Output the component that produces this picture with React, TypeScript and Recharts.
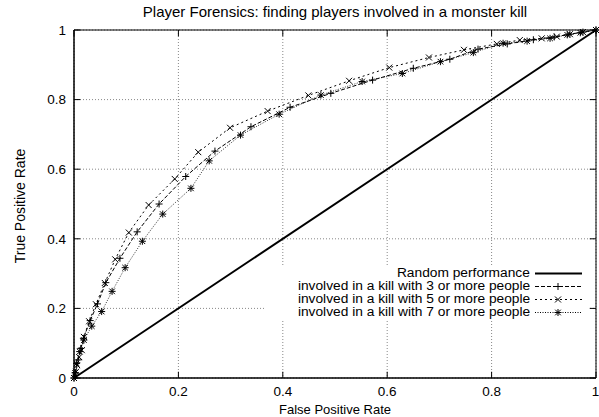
import React from "react";
import {
  LineChart,
  Line,
  XAxis,
  YAxis,
  CartesianGrid,
  ReferenceArea,
  ReferenceLine,
} from "recharts";

document.body.style.margin = "0";

const TICKS = [0, 0.2, 0.4, 0.6, 0.8, 1];

// involved in a kill with 3 or more people
const FPR_3 = [0, 0.003, 0.008, 0.013, 0.018, 0.031, 0.045, 0.061, 0.088, 0.121, 0.163, 0.214, 0.27, 0.339, 0.414, 0.492, 0.572, 0.65, 0.72, 0.774, 0.83, 0.88, 0.92, 0.95, 0.975, 1];
const TPR_3 = [0, 0.015, 0.052, 0.085, 0.114, 0.165, 0.213, 0.274, 0.344, 0.42, 0.5, 0.579, 0.652, 0.722, 0.778, 0.818, 0.856, 0.89, 0.916, 0.945, 0.96, 0.972, 0.98, 0.988, 0.994, 1];

// involved in a kill with 5 or more people
const FPR_5 = [0, 0.004, 0.006, 0.01, 0.015, 0.019, 0.029, 0.042, 0.059, 0.079, 0.105, 0.143, 0.193, 0.238, 0.299, 0.371, 0.449, 0.527, 0.604, 0.68, 0.747, 0.81, 0.854, 0.896, 0.925, 0.95, 0.975, 1];
const TPR_5 = [0, 0.018, 0.037, 0.06, 0.08, 0.118, 0.163, 0.212, 0.273, 0.341, 0.418, 0.497, 0.572, 0.649, 0.719, 0.767, 0.812, 0.854, 0.892, 0.921, 0.943, 0.96, 0.971, 0.976, 0.981, 0.988, 0.994, 1];

// involved in a kill with 7 or more people
const FPR_7 = [0, 0.002, 0.005, 0.011, 0.019, 0.034, 0.053, 0.073, 0.098, 0.131, 0.17, 0.224, 0.259, 0.319, 0.393, 0.473, 0.552, 0.629, 0.702, 0.765, 0.822, 0.868, 0.912, 0.945, 0.97, 1];
const TPR_7 = [0, 0.015, 0.042, 0.076, 0.109, 0.149, 0.191, 0.249, 0.317, 0.393, 0.471, 0.545, 0.624, 0.698, 0.758, 0.813, 0.852, 0.875, 0.909, 0.935, 0.962, 0.968, 0.976, 0.986, 0.992, 1];

const RANDOM_X = [0, 1];
const RANDOM_Y = [0, 1];

const zip = (xs: number[], ys: number[]) => xs.map((x, i) => ({ x, y: ys[i] }));

const s3 = zip(FPR_3, TPR_3);
const s5 = zip(FPR_5, TPR_5);
const s7 = zip(FPR_7, TPR_7);
const random = zip(RANDOM_X, RANDOM_Y);

const FONT = "'Liberation Sans', Arial, Helvetica, sans-serif";
const FS = 13.5;
const fmt = (v: number) => String(v);

const Plus = ({ cx, cy, r = 3.5 }: any) => (
  <g stroke="#000" strokeWidth={1}>
    <line x1={cx - r} y1={cy} x2={cx + r} y2={cy} />
    <line x1={cx} y1={cy - r} x2={cx} y2={cy + r} />
  </g>
);

const Cross = ({ cx, cy, r = 3 }: any) => (
  <g stroke="#000" strokeWidth={1}>
    <line x1={cx - r} y1={cy - r} x2={cx + r} y2={cy + r} />
    <line x1={cx - r} y1={cy + r} x2={cx + r} y2={cy - r} />
  </g>
);

const Star = ({ cx, cy }: any) => (
  <g>
    <Plus cx={cx} cy={cy} r={3.5} />
    <Cross cx={cx} cy={cy} r={2.8} />
  </g>
);

const dotOf = (Shape: any) => (p: any) =>
  p.cx == null ? <g key={p.key} /> : <Shape key={p.key} cx={p.cx} cy={p.cy} />;

const XLabel = ({ viewBox }: any) => (
  <text x={viewBox.x + viewBox.width / 2} y={414} textAnchor="middle" fontSize={13} fill="#000" fontFamily={FONT}>
    False Positive Rate
  </text>
);

const YLabel = ({ viewBox }: any) => {
  const cx = 20;
  const cy = viewBox.y + viewBox.height / 2 + 2;
  return (
    <text x={cx} y={cy} transform={`rotate(-90 ${cx} ${cy})`} textAnchor="middle" dominantBaseline="central" fontSize={14} fill="#000" fontFamily={FONT}>
      True Positive Rate
    </text>
  );
};

const LEGEND = [
  { label: "Random performance", dash: undefined, width: 2, Shape: null },
  { label: "involved in a kill with 3 or more people", dash: "4 2", width: 1, Shape: Plus },
  { label: "involved in a kill with 5 or more people", dash: "2 3", width: 1, Shape: Cross },
  { label: "involved in a kill with 7 or more people", dash: "1 1.5", width: 1, Shape: Star },
];

export default function App() {
  return (
    <div style={{ position: "relative", width: 599, height: 417, fontFamily: FONT, background: "#fff" }}>
      <LineChart width={599} height={417} margin={{ top: 30, right: 3, bottom: 0, left: 0 }}>
        <CartesianGrid stroke="#888" strokeDasharray="1 2" />
        <XAxis
          type="number"
          dataKey="x"
          domain={[0, 1]}
          ticks={TICKS}
          tickFormatter={fmt}
          height={39}
          tickSize={0}
          tickMargin={8}
          axisLine={{ stroke: "#000" }}
          tick={{ fill: "#000", fontSize: FS, fontFamily: FONT }}
          label={<XLabel />}
        />
        <YAxis
          type="number"
          domain={[0, 1]}
          ticks={TICKS}
          tickFormatter={fmt}
          width={74}
          tickSize={0}
          tickMargin={8}
          axisLine={{ stroke: "#000" }}
          tick={{ fill: "#000", fontSize: FS, fontFamily: FONT }}
          label={<YLabel />}
        />
        <ReferenceArea x1={0} x2={1} y1={0} y2={1} fill="none" stroke="#000" strokeWidth={1} fillOpacity={0} />
        {TICKS.map((t) => (
          <ReferenceLine key={"xb" + t} segment={[{ x: t, y: 0 }, { x: t, y: 0.018 }]} stroke="#000" />
        ))}
        {TICKS.map((t) => (
          <ReferenceLine key={"xt" + t} segment={[{ x: t, y: 1 }, { x: t, y: 0.982 }]} stroke="#000" />
        ))}
        {TICKS.map((t) => (
          <ReferenceLine key={"yl" + t} segment={[{ x: 0, y: t }, { x: 0.012, y: t }]} stroke="#000" />
        ))}
        {TICKS.map((t) => (
          <ReferenceLine key={"yr" + t} segment={[{ x: 1, y: t }, { x: 0.988, y: t }]} stroke="#000" />
        ))}
        <Line data={random} dataKey="y" stroke="#000" strokeWidth={2} dot={false} isAnimationActive={false} />
        <Line data={s7} dataKey="y" stroke="#333" strokeWidth={1} strokeDasharray="1 1.5" dot={dotOf(Star)} isAnimationActive={false} />
        <Line data={s5} dataKey="y" stroke="#000" strokeWidth={1} strokeDasharray="2 3" dot={dotOf(Cross)} isAnimationActive={false} />
        <Line data={s3} dataKey="y" stroke="#000" strokeWidth={1} strokeDasharray="4 2" dot={dotOf(Plus)} isAnimationActive={false} />
      </LineChart>

      <div style={{ position: "absolute", left: 74, width: 522, top: 4, textAlign: "center", fontSize: 15, lineHeight: "16px", color: "#000" }}>
        Player Forensics: finding players involved in a monster kill
      </div>

      <div style={{ position: "absolute", left: 266, top: 265, width: 322, height: 56, background: "#fff" }}>
        {LEGEND.map((row, i) => (
          <div key={row.label} style={{ position: "absolute", left: 0, top: 2 + 13 * i, width: 322, height: 13 }}>
            <div
              style={{
                position: "absolute",
                right: 58,
                top: 0,
                fontSize: 12.5,
                lineHeight: "13px",
                whiteSpace: "nowrap",
                color: "#000",
                transform: "scaleX(1.1)",
                transformOrigin: "right center",
              }}
            >
              {row.label}
            </div>
            <svg style={{ position: "absolute", left: 268, top: 0 }} width={52} height={13}>
              <line x1={1} y1={6.5} x2={48} y2={6.5} stroke="#000" strokeWidth={row.width} strokeDasharray={row.dash} />
              {row.Shape ? <row.Shape cx={24} cy={6.5} /> : null}
            </svg>
          </div>
        ))}
      </div>
    </div>
  );
}
